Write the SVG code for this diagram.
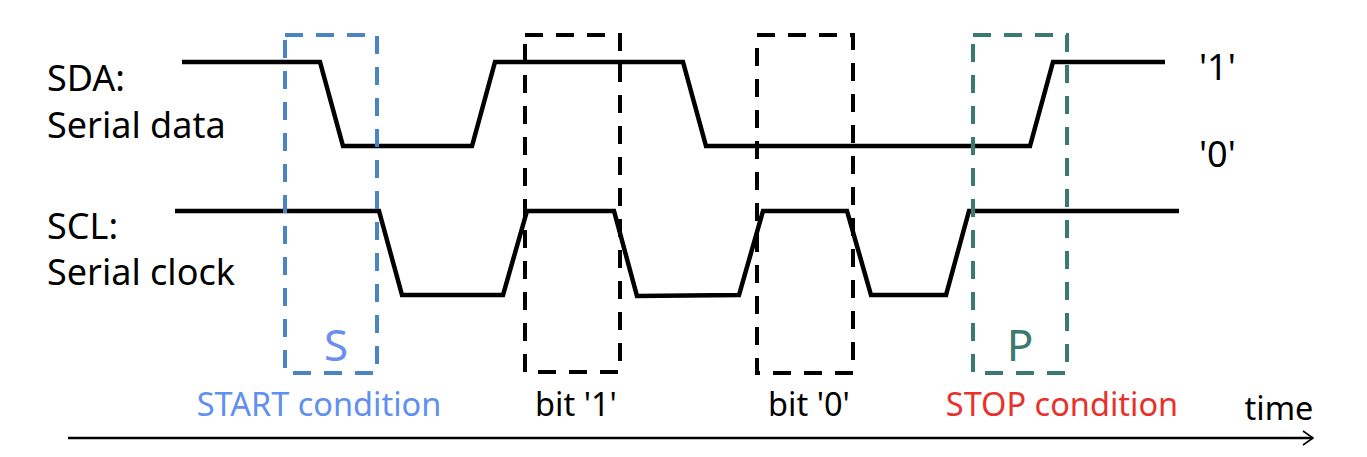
<svg xmlns="http://www.w3.org/2000/svg" width="1367" height="457" viewBox="0 0 1367 457">
<defs>
<style>
.sig{fill:none;stroke:#000;stroke-width:4.5;stroke-linejoin:miter}
.box{fill:none;stroke-width:4;stroke-dasharray:18 13}
.t{font-family:"Noto Sans","Open Sans","Liberation Sans",sans-serif;font-size:36px;fill:#000}
.b{font-family:"Noto Sans","Open Sans","Liberation Sans",sans-serif;font-size:32.5px}
.big{font-family:"Noto Sans","Open Sans","Liberation Sans",sans-serif;font-size:44px;text-anchor:middle}
</style>
<marker id="open" viewBox="0 0 12 16" refX="11" refY="8" markerWidth="12" markerHeight="16" markerUnits="userSpaceOnUse" orient="auto">
<path d="M1,1 L11,8 L1,15" fill="none" stroke="#000" stroke-width="1.6"/>
</marker>
</defs>
<g id="labels">
<text class="t" x="47" y="91">SDA:</text>
<text class="t" x="47" y="138">Serial data</text>
<text class="t" x="47" y="239">SCL:</text>
<text class="t" x="47" y="285">Serial clock</text>
<text class="t" x="1199" y="80">'1'</text>
<text class="t" x="1199" y="167">'0'</text>
</g>
<g id="signals">
<polyline id="sda" class="sig" points="182,62 320,62 343,146 472,146 495,62 683,62 706,146 1030,146 1053,62 1165,62"/>
<polyline id="scl" class="sig" points="175,211 379,211 402,295 503,295 527,211 614,211 637,296 739,295 763,211 847,211 871,295 946,295 969,211 1179,211"/>
</g>
<g id="start">
<rect class="box" x="285" y="35" width="92" height="338" stroke="#4a84c4"/>
<text class="big" x="336" y="361" fill="#6a8ff0">S</text>
<text class="b" x="319" y="416" fill="#5f8ff0" text-anchor="middle">START condition</text>
</g>
<g id="bit1">
<rect class="box" x="525" y="35" width="95" height="337" stroke="#000"/>
<text class="b" x="576" y="416" fill="#000" text-anchor="middle">bit '1'</text>
</g>
<g id="bit0">
<rect class="box" x="757" y="35" width="96" height="338" stroke="#000"/>
<text class="b" x="809" y="416" fill="#000" text-anchor="middle">bit '0'</text>
</g>
<g id="stop">
<rect class="box" x="973" y="35" width="94" height="338" stroke="#3b7a72"/>
<text class="big" x="1020" y="361" fill="#3b7a72">P</text>
<text class="b" x="1062" y="416" fill="#e8312b" text-anchor="middle">STOP condition</text>
</g>
<g id="axis">
<line x1="68" y1="438" x2="1313" y2="438" stroke="#000" stroke-width="2.5" marker-end="url(#open)"/>
<text class="b" x="1279" y="420" fill="#000" text-anchor="middle">time</text>
</g>
</svg>
